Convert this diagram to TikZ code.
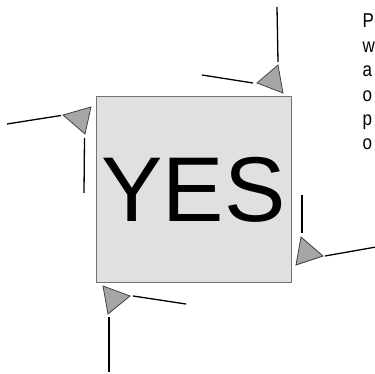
\documentclass[tikz,border=0pt]{standalone}
\usepackage{fontspec}
\usetikzlibrary{calc}
\setmainfont{Liberation Sans}
\newfontfamily\narrowfont[FakeStretch=0.85]{Liberation Sans}
\tikzset{
  box/.style={draw=black!55,fill=black!12,line width=1pt,inner sep=0pt,
    minimum width=195,minimum height=186,font=\fontsize{92}{92}\selectfont},
  sidetext/.style={anchor=base west,inner sep=0pt,font=\narrowfont\fontsize{20}{24}\selectfont},
  pin/.style={draw=black!75,fill=black!35,line width=0.8pt,line join=miter},
  wire/.style={line width=1.3pt}
}
\begin{document}
\begin{tikzpicture}[x=1pt,y=-1pt]
  \useasboundingbox (0,0) rectangle (375,374);
  \node[box] (yes) at (193.5,189.5) {YES};
  % side text
  \foreach \ch [count=\i] in {P,w,a,o,p,o}
    \node[sidetext] (side\i) at (362.5,{28+24.4*(\i-1)}) {\ch};
  % top left
  \draw[pin] (63,115) coordinate (tl1) -- (91,107) -- (85,134) coordinate (tl2) -- cycle;
  \draw[wire] (7,124) -- ($(tl1)+(-2,0.5)$);
  \draw[wire] (84,193) -- ($(tl2)+(-0.5,4)$);
  % top right
  \draw[pin] (257,83) coordinate (tr1) -- (278,65) coordinate (tr2) -- (283,93) -- cycle;
  \draw[wire] (202,75) -- ($(tr1)+(-4,0)$);
  \draw[wire] (277,7) -- ($(tr2)+(0,-3)$);
  % bottom left
  \draw[pin] (103,286) -- (130,296) coordinate (bl1) -- (108,314) coordinate (bl2) -- cycle;
  \draw[wire] (186,304) -- ($(bl1)+(3,0)$);
  \draw[wire] (109,372) -- ($(bl2)+(1,3)$);
  % bottom right
  \draw[pin] (301,237) coordinate (br1) -- (323,256) coordinate (br2) -- (296,265) -- cycle;
  \draw[wire] (376,247) -- ($(br2)+(2,0)$);
  \draw[wire] (302,195) -- ($(br1)+(1,-4)$);
\end{tikzpicture}
\end{document}
